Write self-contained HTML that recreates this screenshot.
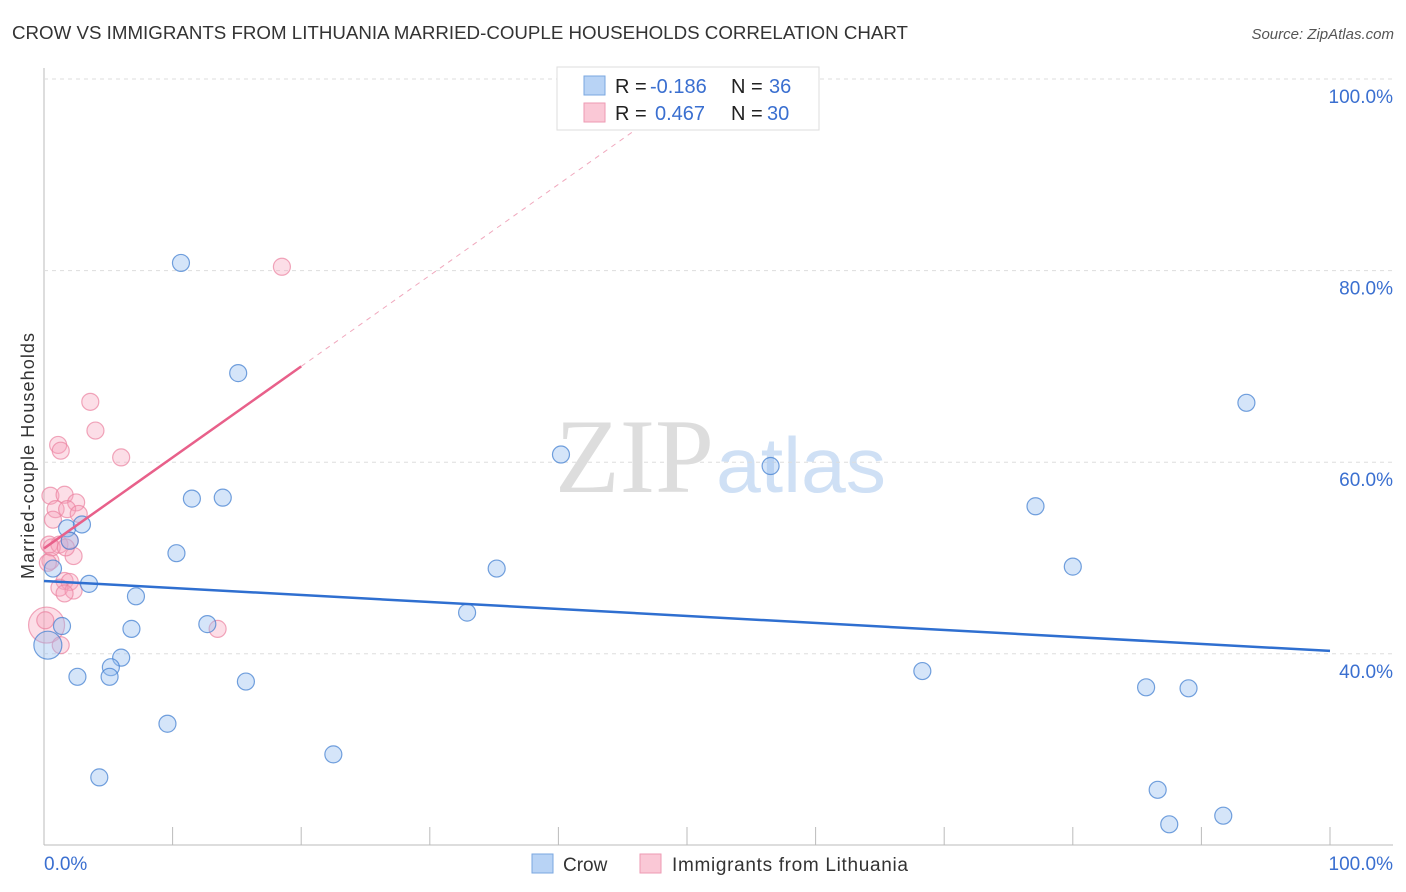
<!DOCTYPE html>
<html><head><meta charset="utf-8"><style>
body{margin:0;background:#fff;font-family:"Liberation Sans",sans-serif}
svg{display:block}
</style></head><body>
<svg id="chart" width="1406" height="892">
<text x="12" y="39" font-size="18" fill="#333" textLength="896" lengthAdjust="spacingAndGlyphs">CROW VS IMMIGRANTS FROM LITHUANIA MARRIED-COUPLE HOUSEHOLDS CORRELATION CHART</text>
<text x="1394" y="39" font-size="15" fill="#555" font-style="italic" text-anchor="end">Source: ZipAtlas.com</text>
<text x="714" y="492" font-size="106" fill="#ddd" text-anchor="end" font-family="Liberation Serif">ZIP</text>
<text x="716" y="492" font-size="78" fill="#cfe0f5" textLength="170" lengthAdjust="spacingAndGlyphs">atlas</text>
<text transform="translate(34,456) rotate(-90)" font-size="18" fill="#333" text-anchor="middle" textLength="246">Married-couple Households</text>
<g id="grid"></g><g id="marks"></g>
<g>
<rect x="557" y="67" width="262" height="63" fill="#fff" stroke="#ddd"/>
<rect x="584" y="76" width="21" height="19" fill="#b8d3f5" stroke="#7aa7e0"/>
<rect x="584" y="103" width="21" height="19" fill="#fac8d6" stroke="#ee9ab3"/>
<text x="615" y="93" font-size="20" fill="#222">R = <tspan x="650" fill="#3a6fd0">-0.186</tspan><tspan x="731">N = </tspan><tspan x="769" fill="#3a6fd0">36</tspan></text>
<text x="615" y="120" font-size="20" fill="#222">R = <tspan x="655" fill="#3a6fd0">0.467</tspan><tspan x="731">N = </tspan><tspan x="767" fill="#3a6fd0">30</tspan></text>
</g>
<g>
<rect x="532" y="854" width="21" height="19" fill="#b8d3f5" stroke="#7aa7e0"/>
<text x="563" y="871" font-size="19" fill="#333">Crow</text>
<rect x="640" y="854" width="21" height="19" fill="#fac8d6" stroke="#ee9ab3"/>
<text x="672" y="871" font-size="19" fill="#333" textLength="236">Immigrants from Lithuania</text>
</g>
</svg>
<script>
const yTicks=[40,60,80,100];
const xTickLabels=["0.0%","100.0%"];
const crowX=[10.65,15.1,11.5,13.9,10.3,1.8,2.95,2.0,0.7,3.5,7.15,1.4,6.8,12.7,0.3,6.0,5.2,2.6,5.1,15.7,9.6,4.3,22.5,40.2,35.2,32.9,56.5,68.3,77.1,80.0,85.7,89.0,86.6,87.5,91.7,93.5];
const crowY=[80.8,69.3,56.2,56.3,50.5,53.1,53.5,51.8,48.9,47.3,46.0,42.9,42.6,43.1,40.9,39.6,38.6,37.6,37.6,37.1,32.7,27.1,29.5,60.8,48.9,44.3,59.6,38.2,55.4,49.1,36.5,36.4,25.8,22.2,23.1,66.2];
const litX=[18.5,3.6,4.0,6.0,1.1,1.3,0.5,1.6,2.5,0.9,1.8,2.7,0.7,0.4,1.2,2.0,2.3,0.5,1.6,2.0,1.2,2.3,1.6,0.2,1.3,13.5,0.6,1.7,0.1,0.3];
const litY=[80.4,66.3,63.3,60.5,61.8,61.2,56.5,56.6,55.8,55.1,55.1,54.6,54.0,51.4,51.4,51.8,50.2,49.7,47.6,47.5,46.9,46.6,46.3,43.0,40.9,42.6,51.1,51.1,43.5,49.5];
const crowTrend=[47.6,40.3];
const litTrend=[51.0,70.0];
const X=v=>44+v*12.86, Y=v=>79+(100-v)*9.58;
const NS="http://www.w3.org/2000/svg";
function mk(t,a,p){const e=document.createElementNS(NS,t);for(const k in a)e.setAttribute(k,a[k]);p.appendChild(e);return e;}
const g=document.getElementById('grid'),m=document.getElementById('marks');
mk('line',{x1:44,y1:68,x2:44,y2:845,stroke:'#bbb'},g);
mk('line',{x1:44,y1:845,x2:1393,y2:845,stroke:'#bbb'},g);
for(let i=1;i<=10;i++){mk('line',{x1:X(i*10),y1:827,x2:X(i*10),y2:845,stroke:'#bbb'},g);}
yTicks.forEach(v=>{
 const l=mk('line',{x1:44,y1:Y(v),x2:1393,y2:Y(v),stroke:'#ddd','stroke-dasharray':'4,4'},g);
 
 
 const t=mk('text',{x:1393,y:Y(v)+24,'font-size':19,fill:'#3a6fd0','text-anchor':'end'},g);t.textContent=v.toFixed(1)+'%';
 
 
});
const t0=mk('text',{x:44,y:870,'font-size':19,fill:'#3a6fd0'},g);t0.textContent=xTickLabels[0];


const t1=mk('text',{x:1393,y:870,'font-size':19,fill:'#3a6fd0','text-anchor':'end'},g);t1.textContent=xTickLabels[1];


litX.forEach((x,i)=>{const r=(i==23)?18:8.5;const c=mk('circle',{cx:X(x),cy:Y(litY[i]),r:r,fill:'rgba(245,160,185,0.35)',stroke:'rgba(235,130,160,0.7)','stroke-width':1.2},m);
 
 });
crowX.forEach((x,i)=>{const r=(i==14)?14:8.5;const c=mk('circle',{cx:X(x),cy:Y(crowY[i]),r:r,fill:'rgba(150,190,240,0.4)',stroke:'rgba(70,130,210,0.75)','stroke-width':1.2},m);
 
 });
const slope=(litTrend[1]-litTrend[0])/20;const xe=(100-litTrend[0])/slope;
const d=mk('line',{x1:X(20),y1:Y(litTrend[1]),x2:X(xe),y2:Y(100),stroke:'#f0a8bd','stroke-dasharray':'5,5','stroke-width':1},m);


const lt=mk('line',{x1:X(0),y1:Y(litTrend[0]),x2:X(20),y2:Y(litTrend[1]),stroke:'#e8608a','stroke-width':2.5},m);


const ct=mk('line',{x1:X(0),y1:Y(crowTrend[0]),x2:X(100),y2:Y(crowTrend[1]),stroke:'#2f6fd0','stroke-width':2.5},m);


</script>
</body></html>
